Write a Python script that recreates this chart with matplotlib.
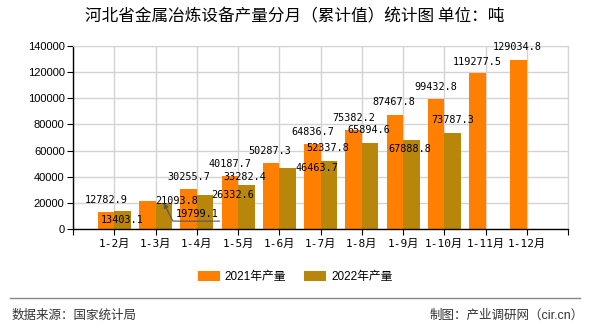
import matplotlib
matplotlib.use('Agg')
import matplotlib.pyplot as plt
import numpy as np

plt.rcParams['font.family'] = ['Liberation Sans', 'Noto Sans CJK SC']

# data
months = ['1-2月', '1-3月', '1-4月', '1-5月', '1-6月', '1-7月',
          '1-8月', '1-9月', '1-10月', '1-11月', '1-12月']
output_2021 = [12782.9, 21093.8, 30255.7, 40187.7, 50287.3, 64836.7,
               75382.2, 87467.8, 99432.8, 119277.5, 129034.8]
output_2022 = [13403.1, 19799.1, 26332.6, 33282.4, 46463.7, 52337.8,
               65894.6, 67888.8, 73787.3]
yticks = [0, 20000, 40000, 60000, 80000, 100000, 120000, 140000]

# label offsets in pixels (right, down) from the bar top
off_2021 = [(0, -12), (29, 0), (0, -12.5), (0, -12.5), (-1, -12), (1, -12),
            (0, -12.5), (-1, -12.5), (0, -12), (0, -11), (-1, -13)]
off_2022 = [(0, 8.5), (33.5, 11), (28, 0), (-1, -8.5), (29.5, 0), (-1, -12.5),
            (-1, -13), (-1, 9), (0, -12.5)]

c21 = '#FF8000'
c22 = '#B8860B'
mono = ['DejaVu Sans Mono', 'Noto Sans CJK SC']

fig = plt.figure(figsize=(5.9, 3.3), dpi=100)
ax = fig.add_axes([73 / 590, 1 - 229 / 330, 495 / 590, 183 / 330])

x = np.arange(len(months))
x22 = x[:len(output_2022)]
ax.bar(x - 0.2, output_2021, 0.4, color=c21, label='2021年产量', zorder=2)
ax.bar(x22 + 0.2, output_2022, 0.4, color=c22, label='2022年产量', zorder=2)

ax.set_xlim(-1, len(months))
ax.set_ylim(0, 140000)
ax.set_yticks(yticks)
ax.set_yticklabels([str(t) for t in yticks], fontsize=8)
ax.set_xticks(np.arange(-1, len(months) + 1))
ax.set_xticklabels([''] + months + [''], family=mono, fontsize=8)
ax.grid(color='#d3d3d3', lw=1, zorder=0)
ax.set_axisbelow(True)
for s in ('left', 'bottom'):
    ax.spines[s].set_color('black')
    ax.spines[s].set_linewidth(1)
for s in ('top', 'right'):
    ax.spines[s].set_color('#d3d3d3')
ax.tick_params(axis='y', length=4, pad=2)
ax.tick_params(axis='x', length=4, pad=3)

# value labels
for i, v in enumerate(output_2021):
    dx, dy = off_2021[i]
    ax.annotate(f'{v:.1f}', xy=(x[i] - 0.2, v), xytext=(dx, -dy),
                textcoords='offset pixels', ha='center', va='center',
                family='DejaVu Sans Mono', fontsize=7.3, zorder=5)
for i, v in enumerate(output_2022):
    dx, dy = off_2022[i]
    ax.annotate(f'{v:.1f}', xy=(x22[i] + 0.2, v), xytext=(dx, -dy),
                textcoords='offset pixels', ha='center', va='center',
                family='DejaVu Sans Mono', fontsize=7.3, zorder=5)

# leader line for the moved 1-3月 label
ax.annotate('', xy=(x22[1] + 0.2, output_2022[1]), xytext=(56, -18),
            textcoords='offset pixels', zorder=5,
            arrowprops=dict(arrowstyle='-|>', color='#555555', lw=0.8,
                            connectionstyle='angle,angleA=0,angleB=-63,rad=0',
                            shrinkA=0, shrinkB=0, mutation_scale=7))

fig.text(0.5, 1 - 17 / 330, '河北省金属冶炼设备产量分月（累计值）统计图 单位：吨',
         ha='center', va='center', fontsize=12, family='Noto Sans CJK SC')

fig.legend(loc='center', bbox_to_anchor=(0.5, 1 - 277 / 330), ncol=2,
           frameon=False, fontsize=8.5, handlelength=1.9, handleheight=1.0,
           columnspacing=1.5, handletextpad=0.4)

fig.add_artist(plt.Line2D([0.017, 0.983], [1 - 298 / 330] * 2, color='#888888',
                          lw=1, transform=fig.transFigure))
fig.text(0.02, 1 - 316 / 330, '数据来源：国家统计局', fontsize=9,
         color='#333333', va='center')
fig.text(0.99, 1 - 316 / 330, '制图：产业调研网（cir.cn）', fontsize=9,
         color='#333333', va='center', ha='right')

fig.savefig('out.png', dpi=100)
